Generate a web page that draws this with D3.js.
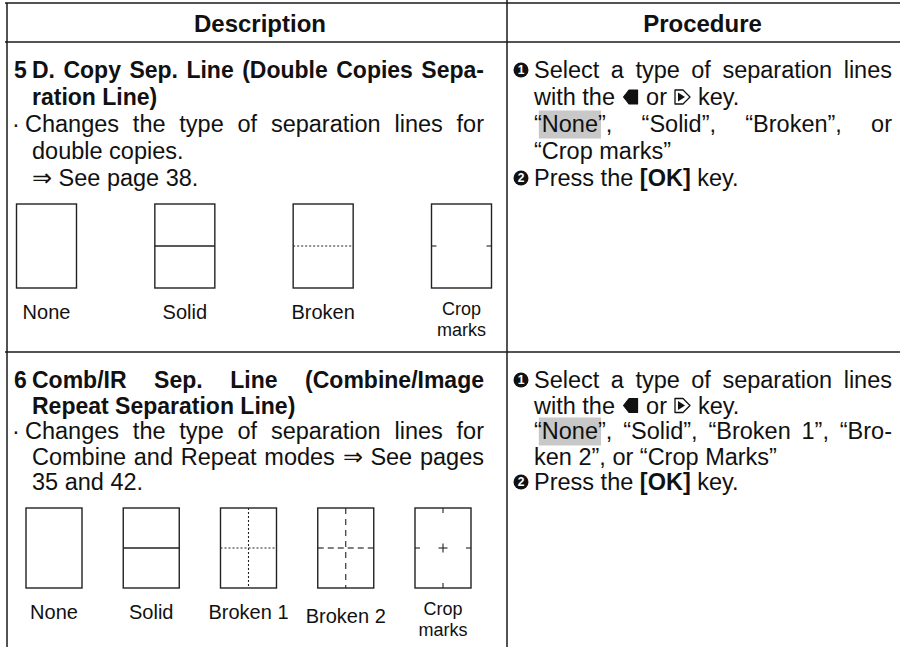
<!DOCTYPE html>
<html><head><meta charset="utf-8">
<script src="https://cdn.jsdelivr.net/npm/d3@7"></script>
<style>
html,body{margin:0;padding:0;background:#fff;}
svg{display:block;}
</style></head><body>
<svg id="c" width="900" height="647"></svg>
<script>
// ---------- content ----------
const headers = ["Description", "Procedure"];
const sectionNumbers = ["5", "6"];
const titles1 = ["D. Copy Sep. Line (Double Copies Sepa-", "ration Line)"];
const titles2 = ["Comb/IR Sep. Line (Combine/Image", "Repeat Separation Line)"];
const body1 = ["Changes the type of separation lines for", "double copies.", "⇒ See page 38."];
const body2 = ["Changes the type of separation lines for", "Combine and Repeat modes ⇒ See pages", "35 and 42."];
const lineTypes1 = ["None", "Solid", "Broken", "Crop marks"];
const patterns1 = ["none", "solid", "dotted", "crop2"];
const lineTypes2 = ["None", "Solid", "Broken 1", "Broken 2", "Crop marks"];
const patterns2 = ["none", "solid", "dotted2", "dashed2", "crop4"];
const proc1 = ["Select a type of separation lines", "with the {L} or {R} key.", "“#None#”, “Solid”, “Broken”, or", "“Crop marks”", "Press the *[OK]* key."];
const proc2 = ["Select a type of separation lines", "with the {L} or {R} key.", "“#None#”, “Solid”, “Broken 1”, “Bro-", "ken 2”, or “Crop Marks”", "Press the *[OK]* key."];
const stepNumbers = ["1", "2"];

// ---------- setup ----------
const FF = '"Liberation Sans", Arial, Helvetica, sans-serif';
const INK = "#111";
const svg = d3.select("#c");
const bg = svg.append("g"), grid = svg.append("g"), fg = svg.append("g");
const meas = svg.append("text").attr("font-family", FF).style("visibility", "hidden");
function tw(s, size, bold) {
  meas.attr("font-size", size).attr("font-weight", bold ? "bold" : "normal").text(s);
  return meas.node().getComputedTextLength();
}
function parseWord(w, bold) {
  if (w === "{L}" || w === "{R}") return [{icon: w[1]}];
  const segs = []; let cur = "", hl = false, b = bold;
  for (const ch of w) {
    if (ch === "#") { if (cur) segs.push({t: cur, hl, b}); cur = ""; hl = !hl; }
    else if (ch === "*") { if (cur) segs.push({t: cur, hl, b}); cur = ""; b = !b; }
    else cur += ch;
  }
  if (cur) segs.push({t: cur, hl, b});
  return segs;
}
function drawKey(k, x, cy) {
  if (k === "L") {
    fg.append("path").attr("d", `M${x+2},${cy} L${x+7.5},${cy-7} L${x+16},${cy-7} L${x+16},${cy+7} L${x+7.5},${cy+7} Z`)
      .attr("fill", INK).attr("stroke", INK).attr("stroke-width", 1.2).attr("stroke-linejoin", "round");
  } else {
    fg.append("path").attr("d", `M${x+1.5},${cy-7} L${x+9.5},${cy-7} L${x+16.5},${cy} L${x+9.5},${cy+7} L${x+1.5},${cy+7} Z`)
      .attr("fill", "#fff").attr("stroke", INK).attr("stroke-width", 1.3).attr("stroke-linejoin", "round");
    fg.append("path").attr("d", `M${x+4.5},${cy-4.5} L${x+11.5},${cy} L${x+4.5},${cy+4.5} Z`).attr("fill", INK);
  }
}
function drawLine(str, x0, cy, size, bold, xEnd) {
  const words = str.split(" ").map(w => parseWord(w, bold));
  words.forEach(w => w.forEach(s => { s.w = s.icon ? 18 : tw(s.t, size, s.b); }));
  const ww = words.map(w => d3.sum(w, s => s.w));
  const sp = tw("a a", size, bold) - tw("aa", size, bold);
  const gap = (xEnd != null && words.length > 1) ? (xEnd - x0 - d3.sum(ww)) / (words.length - 1) : sp;
  const t = fg.append("text").attr("font-family", FF).attr("font-size", size)
    .attr("y", cy + size * 0.36).attr("fill", INK);
  let x = x0;
  words.forEach(w => {
    w.forEach(s => {
      if (s.icon) { drawKey(s.icon, x, cy); }
      else {
        if (s.hl) bg.append("rect").attr("x", x - 3).attr("y", cy - 13.5).attr("width", s.w + 6).attr("height", 28).attr("fill", "#c8c8c8");
        t.append("tspan").attr("x", x).attr("font-weight", s.b ? "bold" : "normal").text(s.t);
      }
      x += s.w;
    });
    x += gap;
  });
}
function plainText(str, x, cy, size, bold, anchor) {
  fg.append("text").attr("font-family", FF).attr("font-size", size).attr("font-weight", bold ? "bold" : "normal")
    .attr("x", x).attr("y", cy + size * 0.36).attr("text-anchor", anchor || "start").attr("fill", INK).text(str);
}

// ---------- grid ----------
const W = 900, H = 647, xL = 7, xMid = 507, xR = 900;
const yTop = 3, yHead = 42, ySep = 352;
const gl = (x1, y1, x2, y2) => grid.append("line").attr("x1", x1).attr("y1", y1).attr("x2", x2).attr("y2", y2)
  .attr("stroke", "#1a1a1a").attr("stroke-width", 1.5);
gl(5, yTop, xR, yTop); gl(5, yHead, xR, yHead); gl(5, ySep, xR, ySep);
gl(xL, yTop, xL, H); gl(xMid, 0, xMid, H);

// headers
plainText(headers[0], (xL + xMid) / 2 + 3, 23, 24, true, "middle");
plainText(headers[1], (xMid + xR) / 2 - 1, 23, 24, true, "middle");

// ---------- rows ----------
const FS = 23.5, FT = 23, LEFT_END = 484, RIGHT_END = 892;
function drawRow(i, titles, body, procLines, yScale) {
  plainText(sectionNumbers[i], 14, yScale(0), FT, true);
  drawLine(titles[0], 32, yScale(0), FT, true, LEFT_END);
  drawLine(titles[1], 32, yScale(1), FT, true);
  plainText("·", 12, yScale(2), FS, false);
  drawLine(body[0], 25, yScale(2), FS, false, LEFT_END);
  const justify3 = body[1].length > 20;
  drawLine(body[1], 32, yScale(3), FS, false, justify3 ? LEFT_END : null);
  drawLine(body[2], 32, yScale(4), FS, false);
  [0, 4].forEach((li, k) => {
    const cy = yScale(li);
    fg.append("circle").attr("cx", 521).attr("cy", cy).attr("r", 7.5).attr("fill", INK);
    fg.append("text").attr("x", 521).attr("y", cy + 4.2).attr("text-anchor", "middle").attr("font-family", FF)
      .attr("font-size", 12).attr("font-weight", "bold").attr("fill", "#fff").text(stepNumbers[k]);
  });
  procLines.forEach((ln, li) => {
    const justify = (li === 0 || li === 2);
    drawLine(ln, 534, yScale(li), FS, false, justify ? RIGHT_END : null);
  });
}
const yRow1 = d3.scaleLinear().domain([0, 4]).range([70, 178]);
const yRow2 = d3.scaleLinear().domain([0, 4]).range([380, 482]);
drawRow(0, titles1, body1, proc1, yRow1);
drawRow(1, titles2, body2, proc2, yRow2);

// ---------- diagrams ----------
function drawDiagram(pattern, cx, top, w, h) {
  const x = cx - w / 2, g = fg.append("g");
  const my = top + h / 2, mx = cx;
  const ln = (x1, y1, x2, y2, dash, col, sw) => g.append("line").attr("x1", x1).attr("y1", y1).attr("x2", x2).attr("y2", y2)
    .attr("stroke", col || "#222").attr("stroke-width", sw || 1.1).attr("stroke-dasharray", dash || null);
  if (pattern === "solid") ln(x, my, x + w, my, null, "#222", 1.3);
  if (pattern === "dotted" || pattern === "dotted2") ln(x, my, x + w, my, "2,2");
  if (pattern === "dotted2") ln(mx, top, mx, top + h, "2,2");
  if (pattern === "dashed2") { ln(x, my, x + w, my, "6,4", "#555", 1.6); ln(mx, top, mx, top + h, "6,5", "#222", 1.1); }
  if (pattern === "crop2" || pattern === "crop4") { ln(x, my, x + 5, my); ln(x + w - 5, my, x + w, my); }
  if (pattern === "crop4") {
    ln(mx, top, mx, top + 5); ln(mx, top + h - 5, mx, top + h);
    ln(mx - 4.5, my, mx + 4.5, my); ln(mx, my - 4.5, mx, my + 4.5);
  }
  g.append("rect").attr("x", x).attr("y", top).attr("width", w).attr("height", h)
    .attr("fill", "none").attr("stroke", "#222").attr("stroke-width", 1.4);
}
function drawLabel(label, cx, cy) {
  const parts = label === "Crop marks" ? ["Crop", "marks"] : [label];
  const dy = label === "Broken 2" ? 4 : 0;
  const two = parts.length > 1;
  parts.forEach((p, k) => plainText(p, cx, cy - (two ? 3 : 0) + k * 20.5 + dy, two ? 18 : 20, false, "middle"));
}
const xs1 = d3.scalePoint().domain(lineTypes1).range([46.5, 461.5]);
const xs2 = d3.scalePoint().domain(lineTypes2).range([54, 443]);
lineTypes1.forEach((c, i) => { drawDiagram(patterns1[i], xs1(c), 204, 60, 84); drawLabel(c, xs1(c), 312); });
lineTypes2.forEach((c, i) => { drawDiagram(patterns2[i], xs2(c), 508, 56, 80); drawLabel(c, xs2(c), 612); });
meas.remove();
</script>
</body></html>
